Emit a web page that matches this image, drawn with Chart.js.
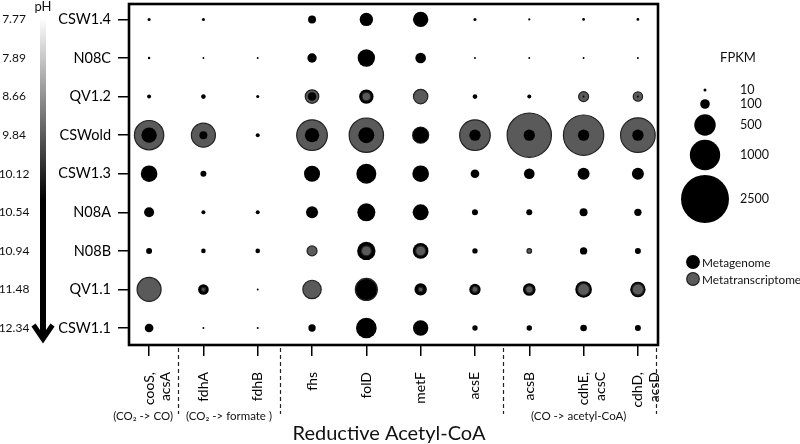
<!DOCTYPE html>
<html><head><meta charset="utf-8">
<script src="https://cdn.jsdelivr.net/npm/chart.js@4.4.0/dist/chart.umd.min.js"></script>
<style>html,body{margin:0;padding:0;background:#fff;}#wrap{width:800px;height:444px;}</style>
</head><body><div id="wrap"><canvas id="c" width="800" height="444"></canvas></div>
<script>
// ---- data ----
const genes = [["cooS,","acsA"],"fdhA","fdhB","fhs","folD","metF","acsE","acsB",["cdhE,","acsC"],["cdhD,","acsD"]];
const samples = ["CSW1.4","N08C","QV1.2","CSWold","CSW1.3","N08A","N08B","QV1.1","CSW1.1"];
const pHValues = ["7.77","7.89","8.66","9.84","10.12","10.54","10.94","11.48","12.34"];
// FPKM, rows = samples, columns = genes
const metagenome = [
  [10, 10, 0, 69, 194, 256, 10, 5, 8, 8],
  [6, 4, 4, 95, 328, 123, 4, 4, 4, 4],
  [17, 23, 10, 80, 225, 0, 23, 17, 4, 4],
  [256, 69, 17, 225, 278, 265, 139, 139, 139, 139],
  [300, 39, 0, 278, 434, 300, 82, 123, 156, 156],
  [108, 17, 17, 156, 352, 278, 39, 39, 69, 58],
  [39, 23, 23, 0, 367, 265, 31, 0, 58, 39],
  [0, 123, 4, 0, 480, 165, 139, 172, 300, 256],
  [82, 4, 4, 58, 463, 256, 31, 31, 48, 39]
];
const metatranscriptome = [
  [0, 0, 0, 0, 0, 0, 0, 0, 0, 0],
  [0, 0, 0, 0, 0, 0, 0, 0, 0, 0],
  [0, 0, 0, 200, 80, 225, 0, 0, 108, 95],
  [935, 625, 0, 1020, 1280, 280, 1020, 2130, 1767, 1300],
  [0, 0, 0, 0, 0, 0, 0, 0, 0, 0],
  [0, 0, 0, 0, 0, 0, 0, 0, 0, 0],
  [0, 0, 0, 108, 108, 108, 0, 23, 0, 0],
  [625, 17, 0, 367, 525, 23, 39, 58, 156, 139],
  [0, 0, 0, 0, 0, 0, 0, 0, 0, 0]
];
const sizeLegendValues = [10, 100, 500, 1000, 2500];
const seriesNames = ["Metagenome", "Metatranscriptome"];
const groupLabels = [["(CO\u2082 -> CO)", -0.11], ["(CO\u2082 -> formate )", 1.47], ["(CO -> acetyl-CoA)", 7.91]];
const separators = [0.53, 2.41, 6.52, 9.33];

// ---- styling ----
const FONT = 'Lato, "Open Sans", sans-serif';
const BLACK = '#000000', GRAY = '#5a5a5a', GRAY_EDGE = '#222222';
const K = 0.48; // px per sqrt(FPKM)
const rad = v => K * Math.sqrt(v);

// build two layers: the larger circle of each cell behind, the smaller on top
const back = [], front = [];
samples.forEach((s, yi) => genes.forEach((g, xi) => {
  const pts = [];
  const a = metagenome[yi][xi], b = metatranscriptome[yi][xi];
  if (a > 0) pts.push({x: xi, y: yi, r: rad(a), s: 0});
  if (b > 0) pts.push({x: xi, y: yi, r: rad(b), s: 1});
  pts.sort((p, q) => q.r - p.r);
  if (pts[0]) back.push(pts[0]);
  if (pts[1]) front.push(pts[1]);
}));
const fill = ctx => (ctx.raw && ctx.raw.s === 1) ? GRAY : BLACK;
const edge = ctx => (ctx.raw && ctx.raw.s === 1) ? GRAY_EDGE : BLACK;
const bw = ctx => (ctx.raw && ctx.raw.s === 1) ? 1.2 : 0;

const decor = {
  id: 'decor',
  afterDatasetsDraw(chart) {
    const {ctx, chartArea: a} = chart;
    ctx.save();
    ctx.strokeStyle = '#000'; ctx.lineWidth = 2.6;
    ctx.strokeRect(a.left, a.top, a.right - a.left, a.bottom - a.top);
    ctx.restore();
  },
  afterDraw(chart) {
    const {ctx, scales: {x, y}} = chart;
    ctx.save();
    // pH arrow
    const g = ctx.createLinearGradient(0, 18, 0, 200);
    g.addColorStop(0, '#ffffff'); g.addColorStop(1, '#000000');
    ctx.strokeStyle = g; ctx.lineWidth = 6;
    ctx.beginPath(); ctx.moveTo(43, 18); ctx.lineTo(43, 338); ctx.stroke();
    ctx.strokeStyle = '#000'; ctx.lineWidth = 5; ctx.lineJoin = 'miter';
    ctx.beginPath(); ctx.moveTo(33.5, 325); ctx.lineTo(43, 339); ctx.lineTo(52.5, 325); ctx.stroke();
    ctx.fillStyle = '#111'; ctx.textAlign = 'center'; ctx.textBaseline = 'middle';
    ctx.font = '13px ' + FONT;
    ctx.fillText('pH', 43, 7);
    ctx.font = '12px ' + FONT;
    pHValues.forEach((p, i) => ctx.fillText(p, 14, y.getPixelForValue(i)));
    // separators
    ctx.strokeStyle = '#222'; ctx.lineWidth = 1.2; ctx.setLineDash([4, 3]);
    separators.forEach(s => {
      const px = Math.round(x.getPixelForValue(s)) + 0.5;
      ctx.beginPath(); ctx.moveTo(px, 348); ctx.lineTo(px, 414); ctx.stroke();
    });
    ctx.setLineDash([]);
    // group labels
    ctx.fillStyle = '#111'; ctx.font = '11.5px ' + FONT;
    groupLabels.forEach(([t, pos]) => ctx.fillText(t, x.getPixelForValue(pos), 416));
    // axis title
    ctx.font = '20px ' + FONT;
    ctx.fillText('Reductive Acetyl-CoA', 389, 434);
    // size legend
    ctx.font = '13px ' + FONT;
    ctx.fillText('FPKM', 738, 58);
    const ys = [90, 104, 125, 155, 199];
    ctx.textAlign = 'left'; ctx.font = '12.5px ' + FONT;
    sizeLegendValues.forEach((v, i) => {
      ctx.fillStyle = '#000';
      ctx.beginPath(); ctx.arc(705, ys[i], rad(v), 0, Math.PI * 2); ctx.fill();
      ctx.fillStyle = '#111';
      ctx.fillText(String(v), 740, ys[i]);
    });
    // series legend
    [[262, BLACK, BLACK], [279, GRAY, GRAY_EDGE]].forEach(([yy, f, e], i) => {
      ctx.fillStyle = f; ctx.strokeStyle = e; ctx.lineWidth = 1.2;
      ctx.beginPath(); ctx.arc(693, yy, 6.3, 0, Math.PI * 2); ctx.fill(); ctx.stroke();
      ctx.fillStyle = '#111'; ctx.font = '11.8px ' + FONT;
      ctx.fillText(seriesNames[i], 702, yy + 1);
    });
    ctx.restore();
  }
};

new Chart(document.getElementById('c'), {
  type: 'bubble',
  data: {
    datasets: [
      {label: 'front', data: front, order: 0, backgroundColor: fill, borderColor: edge, borderWidth: bw},
      {label: 'back', data: back, order: 1, backgroundColor: fill, borderColor: edge, borderWidth: bw}
    ]
  },
  options: {
    responsive: false, animation: false, devicePixelRatio: 1, events: [],
    layout: {autoPadding: false, padding: {left: 0, right: 142, top: 4, bottom: 0}},
    plugins: {legend: {display: false}, tooltip: {enabled: false}},
    scales: {
      x: {
        type: 'linear', min: -0.37, max: 9.37,
        afterBuildTicks: ax => { ax.ticks = genes.map((g, i) => ({value: i})); },
        afterFit: ax => { ax.height = 99; ax.paddingLeft = 0; ax.paddingRight = 0; },
        border: {display: false},
        grid: {drawOnChartArea: false, drawTicks: true, tickLength: 11, color: '#000', lineWidth: 1.5},
        ticks: {
          callback: v => genes[v], autoSkip: false, minRotation: 90, maxRotation: 90,
          padding: 16, color: '#000', font: {family: FONT, size: 14, lineHeight: 1.2}
        }
      },
      y: {
        type: 'linear', reverse: true, min: -0.4, max: 8.44,
        afterBuildTicks: ax => { ax.ticks = samples.map((s, i) => ({value: i})); },
        afterFit: ax => { ax.width = 129; ax.paddingTop = 0; ax.paddingBottom = 0; },
        border: {display: false},
        grid: {drawOnChartArea: false, drawTicks: true, tickLength: 11, color: '#000', lineWidth: 1.5},
        ticks: {callback: v => samples[v], padding: 7, color: '#000', font: {family: FONT, size: 14.5}}
      }
    }
  },
  plugins: [decor]
});
</script></body></html>
